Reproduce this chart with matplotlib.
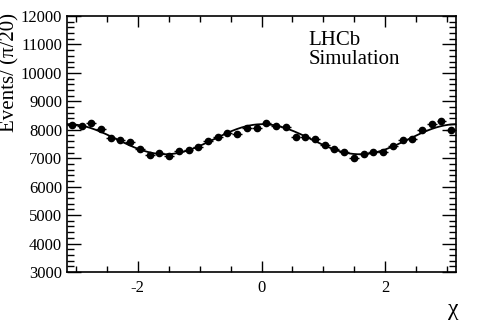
import numpy as np
import matplotlib
matplotlib.use("Agg")
import matplotlib.pyplot as plt
from matplotlib.ticker import MultipleLocator

# Data: events per bin of width pi/20, chi from -pi to pi
n_bins = 40
events = [8170, 8130, 8230, 8030, 7720, 7630, 7560, 7310, 7110, 7170,
          7090, 7250, 7280, 7400, 7600, 7760, 7900, 7860, 8050, 8050,
          8230, 8130, 8090, 7740, 7740, 7670, 7450, 7310, 7230, 7020,
          7140, 7210, 7210, 7430, 7640, 7690, 7990, 8200, 8310, 7990]
y_ticks = [3000, 4000, 5000, 6000, 7000, 8000, 9000, 10000, 11000, 12000]
x_ticks = [-2, 0, 2]

plt.rcParams['font.family'] = ['Liberation Serif', 'DejaVu Serif']
plt.rcParams['mathtext.fontset'] = 'custom'

fig = plt.figure(figsize=(4.8, 3.25), dpi=100)
ax = fig.add_axes([67/480, 1-272/325, (456-67)/480, (272-16)/325])

edges = np.linspace(-np.pi, np.pi, n_bins + 1)
centers = 0.5 * (edges[:-1] + edges[1:])
half_w = 0.5 * (edges[1] - edges[0])
y = np.array(events, dtype=float)
err = np.sqrt(y)

# fit: a + b cos(2x) + c sin(2x)
A = np.column_stack([np.ones_like(centers), np.cos(2*centers), np.sin(2*centers)])
coef, *_ = np.linalg.lstsq(A, y, rcond=None)
xf = np.linspace(-np.pi, np.pi, 400)
yf = coef[0] + coef[1]*np.cos(2*xf) + coef[2]*np.sin(2*xf)
ax.plot(xf, yf, color='black', lw=1.3, zorder=2)

ax.errorbar(centers, y, yerr=err, xerr=half_w, fmt='o', color='black',
            ms=4.5, elinewidth=1.0, capsize=0, zorder=3)

ax.set_xlim(-np.pi, np.pi)
ax.set_ylim(3000, 12000)
ax.set_yticks(y_ticks)
ax.set_xticks(x_ticks)
ax.set_xticklabels(['-2', '0', '2'])
ax.yaxis.set_minor_locator(MultipleLocator(200))
ax.xaxis.set_minor_locator(MultipleLocator(0.5))
ax.tick_params(which='both', direction='in', top=True, right=True, labelsize=12, width=1.0)
ax.tick_params(which='major', length=10)
ax.tick_params(which='minor', length=5)
ax.tick_params(axis='x', which='major', length=8, pad=6)
ax.tick_params(axis='x', which='minor', length=4)
for s in ax.spines.values():
    s.set_linewidth(1.2)

fig.text(10/480, 1-72/325, 'Events/ (π/20)', rotation=90, ha='center', va='center', fontsize=15)
fig.text(453/480, 1-310/325, 'χ', ha='center', va='center', fontsize=17)
ax.text(0.62, 0.94, 'LHCb\nSimulation', transform=ax.transAxes, ha='left', va='top',
        fontsize=15, linespacing=1.0)

fig.savefig('out.png', dpi=100)
